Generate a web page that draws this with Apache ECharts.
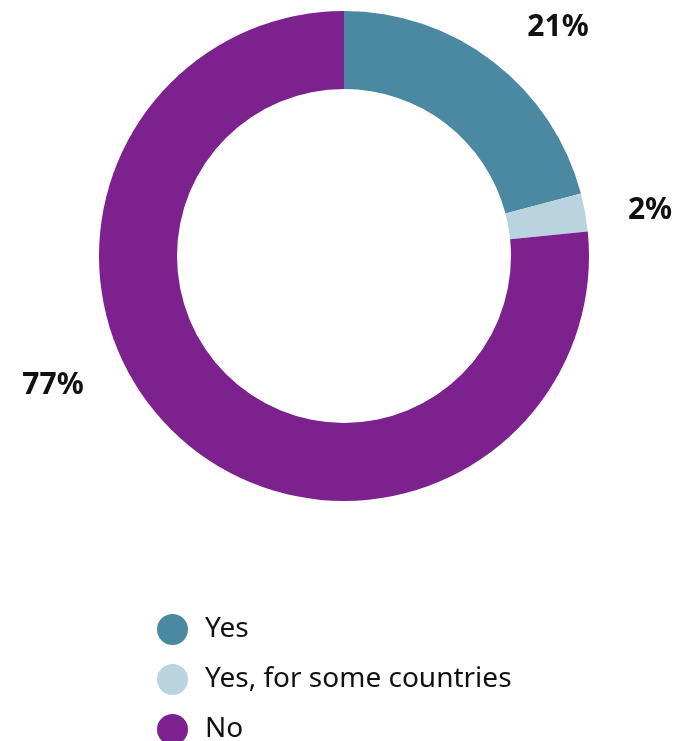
<!DOCTYPE html>
<html><head><meta charset="utf-8">
<script src="https://cdn.jsdelivr.net/npm/echarts@6/dist/echarts.min.js"></script>
<style>html,body{margin:0;padding:0;background:#fff}#c{width:684px;height:741px}</style>
</head><body><div id="c"></div>
<script>
const categories = ["Yes", "Yes, for some countries", "No"];
const values = [20.9, 2.5, 76.6];
const labelTexts = ["21%", "2%", "77%"];
const colors = ["#4b88a2", "#b9d4df", "#7d218f"];

const labelPos = [[558, 27], [650, 210], [53, 385]];
const FONT = "'Noto Sans', sans-serif";
const chart = echarts.init(document.getElementById('c'));
chart.setOption({
  animation: false,
  color: colors,
  legend: {
    orient: 'vertical',
    left: 152,
    top: 609,
    height: 150,
    icon: 'circle',
    itemWidth: 31,
    itemHeight: 31,
    itemGap: 19,
    selectedMode: false,
    textStyle: { fontFamily: FONT, fontSize: 28, lineHeight: 31, color: '#111', padding: [0, 0, 0, 12] },
    data: categories
  },
  series: [{
    type: 'pie',
    center: [344, 256],
    radius: [167, 245],
    startAngle: 90,
    clockwise: true,
    label: {
      show: true,
      position: 'outside',
      overflow: 'none',
      formatter: p => labelTexts[p.dataIndex],
      fontFamily: FONT,
      fontWeight: 'bold',
      fontSize: 30,
      color: '#111'
    },
    labelLine: { show: false },
    labelLayout: p => ({ x: labelPos[p.dataIndex][0], y: labelPos[p.dataIndex][1], align: 'center', verticalAlign: 'middle' }),
    itemStyle: { borderWidth: 0 },
    emphasis: { disabled: true },
    data: categories.map((c, i) => ({ name: c, value: values[i] }))
  }]
});
</script></body></html>
